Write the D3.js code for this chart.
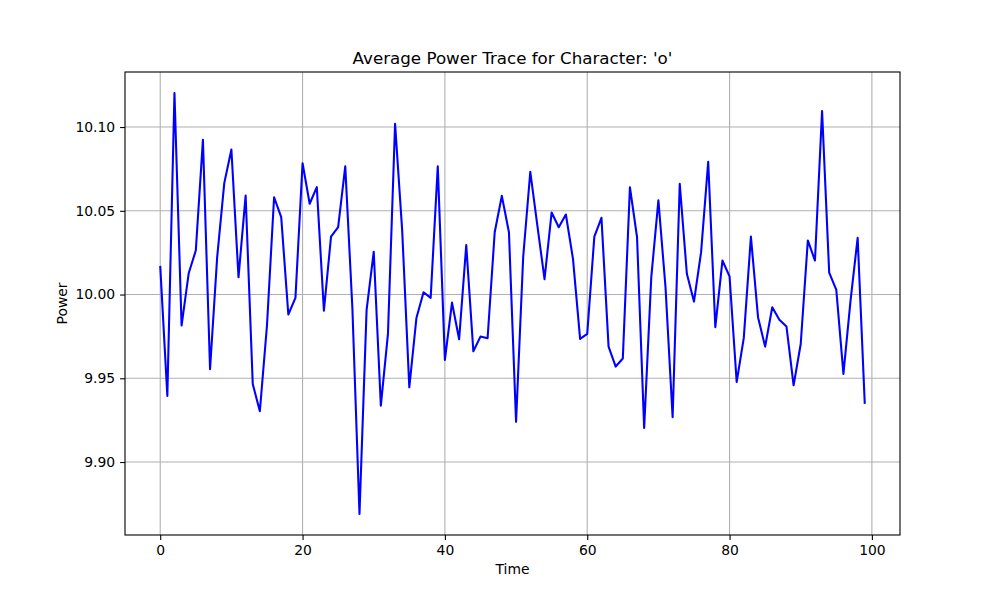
<!DOCTYPE html>
<html>
<head>
<meta charset="utf-8">
<script src="https://cdn.jsdelivr.net/npm/d3@7"></script>
<style>
  body { margin: 0; background: #fff; }
  svg { font-family: "DejaVu Sans", sans-serif; }
</style>
</head>
<body>
<div id="chart"></div>
<script>
// average power per time step
const power = [
  10.0171, 9.9395, 10.1203, 9.9815, 10.0127, 10.0263, 10.0924, 9.9554, 10.0222, 10.0665,
  10.0866, 10.0103, 10.0591, 9.9466, 9.9303, 9.9815, 10.0581, 10.0462, 9.9881, 9.9980,
  10.0784, 10.0542, 10.0641, 9.9904, 10.0346, 10.0402, 10.0765, 9.9920, 9.8690, 9.9909,
  10.0255, 9.9337, 9.9765, 10.1020, 10.0382, 9.9446, 9.9860, 10.0014, 9.9980, 10.0765,
  9.9610, 9.9952, 9.9733, 10.0295, 9.9661, 9.9749, 9.9739, 10.0372, 10.0589, 10.0372,
  9.9240, 10.0223, 10.0733, 10.0410, 10.0092, 10.0490, 10.0402, 10.0478, 10.0213, 9.9735,
  9.9765, 10.0346, 10.0458, 9.9689, 9.9570, 9.9618, 10.0641, 10.0342, 9.9204, 10.0103,
  10.0562, 10.0044, 9.9267, 10.0661, 10.0124, 9.9958, 10.0253, 10.0793, 9.9805, 10.0203,
  10.0108, 9.9478, 9.9741, 10.0346, 9.9865, 9.9689, 9.9924, 9.9849, 9.9809, 9.9458,
  9.9705, 10.0323, 10.0203, 10.1095, 10.0131, 10.0028, 9.9526, 9.9964, 10.0339, 9.9347
];
const time = power.map((d, i) => i);
const xTicks = [0, 20, 40, 60, 80, 100];
const yTicks = [9.90, 9.95, 10.00, 10.05, 10.10];

const W = 1000, H = 600;
const margin = {top: 72, right: 100, bottom: 65, left: 125};
const width = W - margin.left - margin.right,
  height = H - margin.top - margin.bottom;

const svg = d3.select("#chart").append("svg")
  .attr("width", W)
  .attr("height", H);
const g = svg.append("g")
  .attr("transform", `translate(${margin.left},${margin.top})`);

// matplotlib-style 5% padding
const xExt = d3.extent(time), yExt = d3.extent(power);
const xPad = (xExt[1] - xExt[0]) * 0.05, yPad = (yExt[1] - yExt[0]) * 0.05;
const x = d3.scaleLinear()
  .domain([xExt[0] - xPad, xExt[1] + xPad])
  .range([0, width]);
const y = d3.scaleLinear()
  .domain([yExt[0] - yPad, yExt[1] + yPad])
  .range([height, 0]);

// grid
g.append("g").selectAll("line").data(xTicks)
  .join("line")
  .attr("x1", d => x(d)).attr("x2", d => x(d))
  .attr("y1", 0).attr("y2", height)
  .attr("stroke", "#b0b0b0").attr("stroke-width", 1.1);
g.append("g").selectAll("line").data(yTicks)
  .join("line")
  .attr("y1", d => y(d)).attr("y2", d => y(d))
  .attr("x1", 0).attr("x2", width)
  .attr("stroke", "#b0b0b0").attr("stroke-width", 1.1);

// the trace
const line = d3.line()
  .x((d, i) => x(time[i]))
  .y(d => y(d));
g.append("path")
  .datum(power)
  .attr("fill", "none")
  .attr("stroke", "blue")
  .attr("stroke-width", 2.08)
  .attr("stroke-linejoin", "round")
  .attr("d", line);

// axes
const xAxisG = g.append("g")
  .attr("transform", `translate(0,${height})`)
  .call(d3.axisBottom(x).tickValues(xTicks).tickSize(4.9).tickPadding(4.9).tickFormat(d3.format("d")));
const yAxisG = g.append("g")
  .call(d3.axisLeft(y).tickValues(yTicks).tickSize(4.9).tickPadding(4.9).tickFormat(d3.format(".2f")));
[xAxisG, yAxisG].forEach(a => {
  a.select(".domain").remove();
  a.selectAll("text").attr("font-size", 13.9).attr("fill", "#000")
    .attr("font-family", "DejaVu Sans");
  a.selectAll("line").attr("stroke", "#000").attr("stroke-width", 1.1);
});

// frame
g.append("rect")
  .attr("width", width).attr("height", height)
  .attr("fill", "none").attr("stroke", "#000").attr("stroke-width", 1.1);

// labels
svg.append("text")
  .attr("x", margin.left + width / 2)
  .attr("y", margin.top - 8.3)
  .attr("text-anchor", "middle")
  .attr("font-size", 16.7)
  .text("Average Power Trace for Character: 'o'");
svg.append("text")
  .attr("x", margin.left + width / 2)
  .attr("y", 574)
  .attr("text-anchor", "middle")
  .attr("font-size", 13.9)
  .text("Time");
svg.append("text")
  .attr("transform", `translate(67,${margin.top + height / 2}) rotate(-90)`)
  .attr("text-anchor", "middle")
  .attr("font-size", 13.9)
  .text("Power");
</script>
</body>
</html>
